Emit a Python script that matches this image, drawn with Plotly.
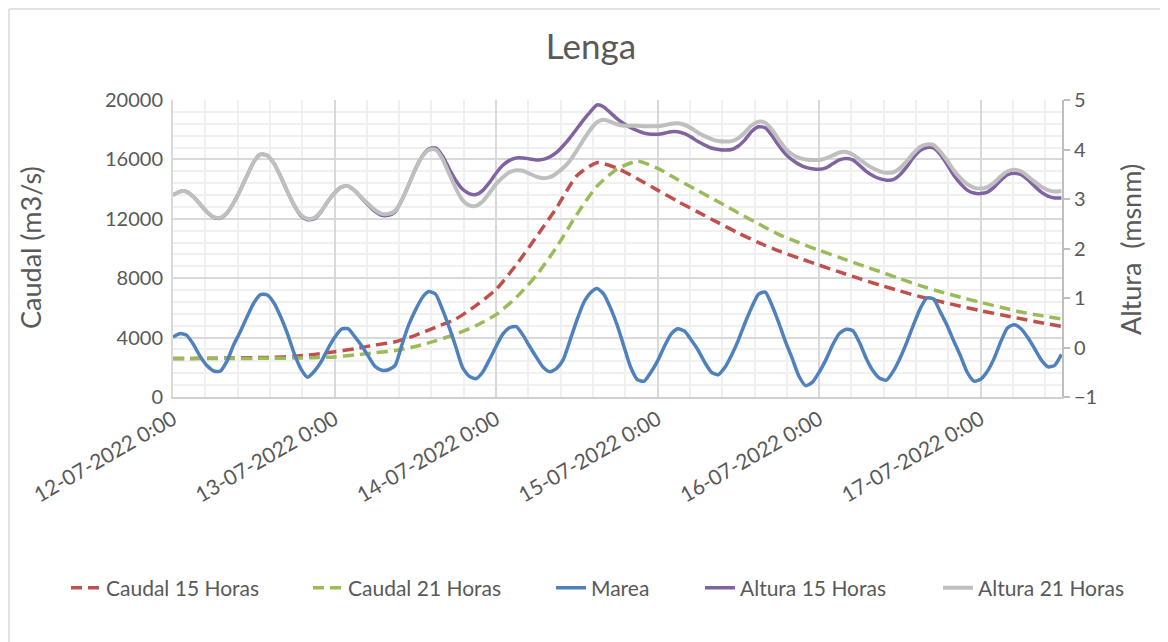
"""Lenga: caudal y altura, 12-17 julio 2022."""
import pandas as pd
import plotly.graph_objects as go

TEXT = "#595959"
FONT = "Lato"

# hourly samples from 12-07-2022 0:00
hours = pd.date_range("2022-07-12 00:00", periods=133, freq="h")
# 3-hourly samples for the discharge curves
hours3 = pd.date_range("2022-07-12 00:00", periods=45, freq="3h")

caudal_15 = [
    2600, 2600, 2610, 2630, 2650, 2670, 2740, 2870, 3040, 3250, 3500, 3720,
    4150, 4700, 5250, 6150, 7250, 8900, 10800, 12750, 14900, 15780, 15400,
    14700, 13930, 13170, 12450, 11740, 11040, 10400, 9840, 9350, 8880, 8420,
    7970, 7540, 7140, 6760, 6430, 6110, 5810, 5540, 5270, 5000, 4750,
]
caudal_21 = [
    2600, 2600, 2600, 2600, 2600, 2610, 2620, 2650, 2700, 2830, 2980, 3130,
    3400, 3780, 4230, 4800, 5550, 6700, 8200, 10100, 12300, 14200, 15350,
    15880, 15400, 14640, 13890, 13150, 12390, 11660, 10950, 10390, 9880, 9400,
    8920, 8450, 7970, 7500, 7090, 6720, 6370, 6040, 5720, 5480, 5250,
]
marea = [
    0.21, 0.28, 0.25, 0.07, -0.17, -0.36, -0.47, -0.48, -0.28, 0.05, 0.32, 0.62,
    0.90, 1.07, 1.06, 0.90, 0.62, 0.28, -0.12, -0.43, -0.60, -0.48, -0.29, -0.03,
    0.20, 0.37, 0.38, 0.22, 0.04, -0.17, -0.38, -0.46, -0.45, -0.36, 0.05, 0.45,
    0.75, 1.00, 1.13, 1.08, 0.78, 0.42, 0.02, -0.40, -0.58, -0.63, -0.50, -0.25,
    0.02, 0.27, 0.40, 0.42, 0.25, 0.02, -0.20, -0.40, -0.49, -0.42, -0.24, 0.15,
    0.55, 0.90, 1.10, 1.19, 1.08, 0.80, 0.45, 0.02, -0.40, -0.65, -0.68, -0.50,
    -0.27, 0.02, 0.27, 0.38, 0.33, 0.15, -0.05, -0.30, -0.50, -0.55, -0.40, -0.15,
    0.15, 0.50, 0.82, 1.08, 1.12, 0.85, 0.50, 0.12, -0.22, -0.58, -0.77, -0.70,
    -0.50, -0.25, 0.05, 0.28, 0.37, 0.34, 0.10, -0.22, -0.47, -0.62, -0.66, -0.48,
    -0.22, 0.10, 0.45, 0.78, 1.00, 0.98, 0.72, 0.45, 0.13, -0.17, -0.50, -0.68,
    -0.64, -0.48, -0.22, 0.12, 0.40, 0.46, 0.38, 0.20, -0.02, -0.25, -0.39, -0.36,
    -0.14,
]
altura_15 = [
    3.08, 3.15, 3.15, 3.05, 2.90, 2.74, 2.63, 2.61, 2.71, 2.92, 3.18, 3.47,
    3.75, 3.90, 3.88, 3.72, 3.45, 3.15, 2.87, 2.66, 2.58, 2.60, 2.74, 2.95,
    3.12, 3.24, 3.26, 3.17, 3.02, 2.88, 2.75, 2.67, 2.67, 2.74, 2.98, 3.28,
    3.60, 3.86, 4.01, 4.03, 3.88, 3.62, 3.38, 3.20, 3.11, 3.09, 3.17, 3.33,
    3.52, 3.68, 3.78, 3.83, 3.83, 3.81, 3.79, 3.80, 3.85, 3.94, 4.08, 4.24,
    4.42, 4.60, 4.76, 4.90, 4.86, 4.74, 4.62, 4.52, 4.44, 4.38, 4.33, 4.31,
    4.31, 4.33, 4.36, 4.36, 4.32, 4.25, 4.16, 4.09, 4.03, 4.00, 3.99, 4.00,
    4.07, 4.20, 4.37, 4.46, 4.44, 4.28, 4.08, 3.91, 3.79, 3.70, 3.64, 3.61,
    3.60, 3.63, 3.71, 3.79, 3.82, 3.79, 3.68, 3.56, 3.47, 3.41, 3.38, 3.39,
    3.49, 3.65, 3.84, 3.98, 4.04, 4.03, 3.90, 3.70, 3.48, 3.31, 3.18, 3.12,
    3.11, 3.14, 3.24, 3.38, 3.49, 3.52, 3.49, 3.39, 3.26, 3.14, 3.06, 3.02,
    3.02,
]
altura_21 = [
    3.08, 3.15, 3.15, 3.05, 2.90, 2.75, 2.64, 2.62, 2.72, 2.92, 3.18, 3.47,
    3.75, 3.90, 3.88, 3.72, 3.45, 3.15, 2.88, 2.68, 2.60, 2.62, 2.75, 2.95,
    3.12, 3.24, 3.26, 3.17, 3.03, 2.90, 2.78, 2.70, 2.70, 2.76, 2.98, 3.28,
    3.60, 3.85, 3.99, 4.00, 3.82, 3.52, 3.22, 2.98, 2.87, 2.86, 2.95, 3.12,
    3.30, 3.44, 3.54, 3.58, 3.57, 3.51, 3.45, 3.42, 3.44, 3.52, 3.63, 3.78,
    3.98, 4.20, 4.40, 4.55, 4.60, 4.56, 4.51, 4.48, 4.48, 4.48, 4.47, 4.47,
    4.47, 4.49, 4.52, 4.53, 4.50, 4.43, 4.34, 4.27, 4.21, 4.17, 4.16, 4.17,
    4.23, 4.35, 4.49, 4.56, 4.54, 4.40, 4.20, 4.02, 3.90, 3.83, 3.80, 3.79,
    3.79, 3.82, 3.88, 3.94, 3.95, 3.90, 3.80, 3.70, 3.62, 3.56, 3.53, 3.54,
    3.62, 3.76, 3.92, 4.05, 4.10, 4.09, 3.96, 3.78, 3.58, 3.42, 3.30, 3.23,
    3.21, 3.24, 3.33, 3.46, 3.56, 3.59, 3.56, 3.46, 3.35, 3.25, 3.18, 3.15,
    3.16,
]

tick_dates = pd.date_range("2022-07-12", periods=6, freq="D")
tick_labels = [
    "12-07-2022 0:00", "13-07-2022 0:00", "14-07-2022 0:00",
    "15-07-2022 0:00", "16-07-2022 0:00", "17-07-2022 0:00",
]

# the page body adds an 8px margin, so the figure is drawn 8px smaller
# and every screen position below is given relative to the figure
OFF = 8
W, H = 1168 - OFF, 642 - OFF
PX0, PX1, PY0, PY1 = 173 - OFF, 1062 - OFF, 100 - OFF, 397 - OFF


def px_x(x):
    return (x - OFF - PX0) / (PX1 - PX0)


def px_y(y):
    return (PY1 - (y - OFF)) / (PY1 - PY0)


series = [
    ("Caudal 15 Horas", hours3, caudal_15, "y", "#C0504D", 3.5, "11px,6px", 108),
    ("Caudal 21 Horas", hours3, caudal_21, "y", "#9BBB59", 3.5, "11px,6px", 350),
    ("Marea", hours, marea, "y2", "#4F81BD", 3.5, "solid", 593),
    ("Altura 15 Horas", hours, altura_15, "y2", "#8064A2", 3.5, "solid", 742),
    ("Altura 21 Horas", hours, altura_21, "y2", "#BFBFBF", 4, "solid", 980),
]

fig = go.Figure()
legends = {}
for i, (name, x, y, axis, color, width, dash, text_x) in enumerate(series):
    key = "legend" if i == 0 else f"legend{i + 1}"
    fig.add_trace(
        go.Scatter(
            x=x,
            y=y,
            name=name,
            yaxis=axis,
            mode="lines",
            line=dict(color=color, width=width, dash=dash, shape="spline", smoothing=0.6),
            legend=key,
            showlegend=True,
        )
    )
    legends[key] = dict(
        x=px_x(text_x - 42),
        y=px_y(588),
        xanchor="left",
        yanchor="middle",
        orientation="h",
        font=dict(family=FONT, size=21, color=TEXT),
        bgcolor="rgba(0,0,0,0)",
    )

fig.update_layout(
    width=W,
    height=H,
    showlegend=True,
    margin=dict(l=PX0, r=W - PX1, t=PY0, b=H - PY1),
    paper_bgcolor="white",
    plot_bgcolor="white",
    font=dict(family=FONT, size=20, color=TEXT),
    title=dict(
        text="Lenga",
        x=(591 - OFF) / W,
        xref="container",
        xanchor="center",
        y=1 - (47 - OFF) / H,
        yref="container",
        yanchor="middle",
        font=dict(family=FONT, size=35, color=TEXT),
    ),
    xaxis=dict(
        type="date",
        range=["2022-07-12 00:00", "2022-07-17 12:05"],
        tickmode="array",
        tickvals=tick_dates,
        ticktext=tick_labels,
        tickangle=-30,
        tickfont=dict(family=FONT, size=21, color=TEXT),
        showgrid=True,
        gridcolor="#D9D9D9",
        gridwidth=1.5,
        minor=dict(
            dtick=4.8 * 3600 * 1000,
            tick0="2022-07-12 00:00",
            showgrid=True,
            gridcolor="#F0F0F0",
            gridwidth=1.5,
        ),
        showline=True,
        linecolor="#D0D0D0",
        linewidth=2,
        zeroline=False,
    ),
    yaxis=dict(
        range=[0, 20000],
        dtick=4000,
        tickformat="d",
        tickfont=dict(family=FONT, size=20, color=TEXT),
        showgrid=True,
        gridcolor="#D9D9D9",
        gridwidth=1.5,
        minor=dict(dtick=800, showgrid=True, gridcolor="#F0F0F0", gridwidth=1.5),
        showline=True,
        linecolor="#D9D9D9",
        linewidth=2,
        zeroline=False,
        ticklabelstandoff=4,
    ),
    yaxis2=dict(
        range=[-1, 5],
        dtick=1,
        overlaying="y",
        side="right",
        tickfont=dict(family=FONT, size=20, color=TEXT),
        showgrid=False,
        showline=True,
        linecolor="#BFBFBF",
        linewidth=2,
        ticks="outside",
        ticklen=6,
        tickcolor="#BFBFBF",
        tickwidth=2,
        zeroline=False,
    ),
    **legends,
)

fig.add_annotation(
    text="Caudal (m3/s)",
    xref="paper",
    yref="paper",
    x=px_x(30),
    y=px_y(248),
    xanchor="center",
    yanchor="middle",
    textangle=-90,
    showarrow=False,
    font=dict(family=FONT, size=27, color=TEXT),
)
fig.add_annotation(
    text="Altura\u00a0 (msnm)",
    xref="paper",
    yref="paper",
    x=px_x(1131),
    y=px_y(250),
    xanchor="center",
    yanchor="middle",
    textangle=-90,
    showarrow=False,
    font=dict(family=FONT, size=27, color=TEXT),
)

# light outer frame of the chart: only its left and top edges fall in view
for x0, y0, x1, y1 in [(9, 9, 9, 642), (9, 9, 1168, 9)]:
    fig.add_shape(
        type="line",
        xref="paper",
        yref="paper",
        x0=px_x(x0),
        y0=px_y(y0),
        x1=px_x(x1),
        y1=px_y(y1),
        line=dict(color="#D9D9D9", width=1.5),
        layer="below",
    )

fig.write_html("out.html")
